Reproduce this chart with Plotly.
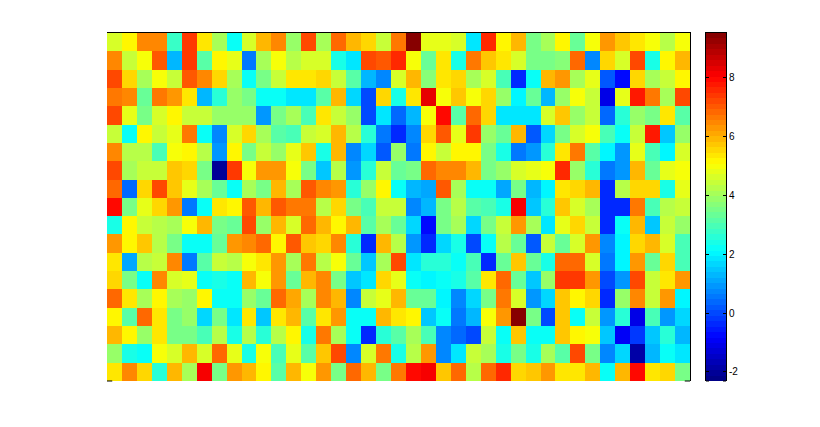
import plotly.graph_objects as go

row_00 = [4.6,5.1,6.4,6.4,2.7,7.4,5.4,4.0,2.3,4.7,6.0,6.4,3.8,7.2,4.0,6.8,5.9,5.6,4.4,6.6,9.53,4.8,4.9,4.6,1.8,7.5,5.1,5.85,3.6,4.0,5.1,3.3,5.0,6.2,5.8,5.3,5.0,4.2,5.0]
row_01 = [6.4,4.4,5.0,7.0,1.3,7.4,3.1,5.1,4.8,0.5,4.0,5.0,4.2,4.6,4.6,2.4,1.85,7.3,7.0,7.6,5.0,3.3,5.3,2.4,6.6,5.8,5.3,4.6,3.6,3.5,3.7,6.8,0.7,5.6,4.6,7.2,2.4,5.1,5.85]
row_02 = [7.3,5.6,4.0,5.0,4.4,7.0,6.4,5.5,4.0,2.15,3.5,4.4,5.4,5.4,5.6,4.4,3.1,1.25,0.8,4.6,6.0,3.7,5.3,5.5,4.1,4.6,2.9,-0.4,2.3,5.95,6.2,4.0,4.8,0.1,-0.8,5.5,4.1,4.5,5.2]
row_03 = [6.6,6.4,3.3,6.6,6.2,5.3,1.3,2.6,3.8,3.6,2.15,2.3,1.8,1.8,3.1,6.0,1.7,-0.05,5.5,2.4,5.3,8.4,5.0,5.8,5.0,5.5,3.8,2.0,3.3,1.3,3.8,5.0,4.4,-1.2,4.9,7.7,6.6,4.0,7.2]
row_04 = [7.2,4.9,3.5,4.6,5.1,4.5,4.5,3.8,3.8,3.8,1.0,3.5,4.1,2.9,5.4,4.4,3.8,0.05,1.8,0.3,1.3,5.0,7.9,3.1,6.9,5.5,1.9,1.8,1.9,4.6,5.8,3.8,4.5,0.3,2.6,3.8,3.5,5.4,3.1]
row_05 = [4.4,2.3,5.1,4.4,4.8,6.6,2.15,0.8,4.6,5.5,4.0,3.1,2.9,4.4,4.6,5.95,4.2,2.6,0.6,-0.3,0.8,5.5,7.0,4.8,7.4,3.8,3.3,6.0,0.1,1.6,3.5,4.6,5.0,2.9,2.15,4.4,7.7,1.4,3.8]
row_06 = [6.4,4.2,4.2,2.9,5.0,5.1,4.2,1.0,5.1,3.5,4.4,3.8,4.9,5.8,2.4,6.0,0.8,1.6,0.1,3.8,0.6,5.1,4.4,5.1,5.1,3.5,2.4,0.5,1.0,2.6,5.4,6.6,3.1,2.0,1.0,4.8,2.9,2.0,4.6]
row_07 = [7.3,4.1,4.4,4.4,5.8,5.5,3.6,-2.0,7.4,5.0,6.2,6.2,5.0,3.6,1.5,4.2,1.0,2.6,4.5,3.3,3.6,6.8,6.4,6.4,6.0,3.6,3.8,4.6,4.8,5.0,7.5,3.8,2.6,0.5,0.9,5.85,3.3,4.8,5.0]
row_08 = [6.9,0.3,5.5,7.2,5.8,4.8,4.0,3.3,2.15,4.0,3.5,5.85,4.1,7.0,6.5,6.2,2.6,3.8,5.1,2.15,1.3,1.2,7.0,4.1,2.3,2.3,1.2,3.6,1.3,2.0,5.3,5.6,6.0,-0.3,4.2,5.6,5.6,2.4,4.9]
row_09 = [7.9,3.6,4.9,5.5,6.2,0.5,2.3,5.4,5.1,7.0,6.0,7.0,6.6,6.6,4.3,5.5,3.6,2.9,4.5,4.4,0.8,1.3,3.6,4.2,3.1,2.9,2.4,8.1,1.5,2.6,5.8,4.7,4.0,-0.4,-0.3,6.6,2.9,4.2,4.4]
row_10 = [2.4,5.1,4.4,4.2,4.1,5.0,5.85,3.5,3.3,7.2,3.8,5.85,4.6,6.8,6.0,5.1,6.0,3.1,4.0,3.3,1.7,-0.8,3.5,4.0,1.6,3.6,4.4,6.2,4.1,1.8,4.9,5.5,4.5,-0.3,2.3,6.0,1.5,4.4,3.8]
row_11 = [6.2,5.1,5.8,4.2,3.6,2.3,2.3,3.3,6.2,6.4,6.8,5.2,7.0,5.8,5.5,6.4,2.6,-0.4,6.0,4.2,1.0,-0.3,1.7,2.4,0.05,2.3,4.2,3.3,0.2,4.4,3.3,4.6,6.2,0.7,2.0,5.6,5.85,4.7,2.9]
row_12 = [5.3,1.2,4.2,4.5,6.4,0.5,3.1,4.4,4.2,5.0,5.4,6.2,4.1,6.6,4.3,5.0,3.3,1.5,4.0,7.3,1.9,2.6,2.6,2.15,2.9,-0.3,3.3,5.8,3.3,2.4,6.9,6.9,4.6,0.5,2.0,6.2,3.3,5.5,2.9]
row_13 = [5.5,3.6,2.15,6.4,4.6,4.9,2.15,2.4,2.15,6.0,5.0,6.2,3.3,5.95,6.5,3.6,1.4,1.8,5.5,4.8,2.3,2.0,2.3,2.4,3.1,5.4,6.8,3.3,1.4,3.8,7.4,7.4,6.2,0.0,0.9,7.2,4.4,5.3,6.2]
row_14 = [6.8,5.4,4.1,5.1,4.0,3.8,5.1,2.15,2.3,3.8,3.3,6.8,6.1,4.0,6.4,6.0,0.7,4.4,4.8,6.0,3.3,3.3,2.0,0.8,1.7,3.6,6.6,4.6,1.0,1.6,5.8,5.1,5.5,-0.4,3.8,6.5,4.4,6.2,2.0]
row_15 = [5.1,3.1,6.9,5.4,3.5,3.8,1.6,3.5,1.8,5.4,1.4,5.4,6.0,3.1,5.3,6.2,2.15,2.15,6.0,5.4,5.1,1.4,2.3,0.6,1.3,5.0,6.3,9.5,3.6,0.0,5.8,2.15,4.5,1.0,2.6,-1.2,2.9,0.9,1.6]
row_16 = [6.0,5.1,3.8,5.4,3.6,3.6,2.9,4.2,2.4,4.2,2.6,4.2,5.1,2.4,6.6,4.1,2.3,-0.4,2.6,3.1,4.1,2.9,0.7,0.3,0.05,4.4,2.3,5.8,2.3,2.15,5.8,5.1,5.0,1.5,-1.0,-0.2,1.4,2.6,1.3]
row_17 = [3.8,2.4,2.3,5.0,4.6,6.0,4.6,6.8,4.8,2.4,5.0,2.9,4.8,3.1,5.8,7.3,0.8,4.6,6.6,2.4,4.3,6.2,0.8,1.8,4.4,4.1,2.4,3.5,2.4,4.1,3.1,7.2,3.6,0.8,1.6,-1.8,1.3,2.3,1.8]
row_18 = [5.3,6.5,5.5,2.6,6.0,4.0,8.2,3.5,6.2,6.0,5.1,3.1,6.0,5.0,6.2,3.5,6.9,5.85,3.6,6.6,7.9,8.1,5.8,6.8,4.2,6.8,7.6,5.5,5.8,6.2,5.3,5.3,6.0,2.3,6.0,7.9,5.3,5.5,3.5]
rows = [row_00,row_01,row_02,row_03,row_04,row_05,row_06,row_07,row_08,row_09,
        row_10,row_11,row_12,row_13,row_14,row_15,row_16,row_17,row_18]

Z_MIN, Z_MAX = -2.31, 9.53
cbar_ticks = [-2, 0, 2, 4, 6, 8]
cbar_labels = ["-2", "0", "2", "4", "6", "8"]

# MATLAB-style 64-level jet colormap
def jet(t):
    def ch(c):
        return max(0.0, min(1.0, 1.5 - abs(4 * t - c)))
    return f"rgb({round(255*ch(3))},{round(255*ch(2))},{round(255*ch(1))})"

N = 64
scale = []
for i in range(N):
    col = jet((i + 0.5) / N)
    scale += [[i / N, col], [(i + 1) / N, col]]

# the colour key: one cell per colormap level, placed on its own value axis
level_step = (Z_MAX - Z_MIN) / N
levels = [Z_MIN + (i + 0.5) * level_step for i in range(N)]

# the page body keeps its 8px margin, so the figure area starts at (8, 8)
OFF = 8
W, H = 820 - 2 * OFF, 427 - 2 * OFF
L, R, T, B = 107 - OFF, 690 - OFF, 33 - OFF, 381 - OFF
CL, CR = 706 - OFF, 726 - OFF

fig = go.Figure()
fig.add_trace(go.Heatmap(z=rows, zmin=Z_MIN, zmax=Z_MAX, colorscale=scale, showscale=False,
                         hoverinfo="z", xaxis="x", yaxis="y"))
fig.add_trace(go.Heatmap(z=[[v] for v in levels], y=levels, x=[0], zmin=Z_MIN, zmax=Z_MAX, colorscale=scale,
                         showscale=False, hoverinfo="y", xaxis="x2", yaxis="y2"))

stub = dict(color="black", width=1)
fig.update_layout(
    width=W, height=H, paper_bgcolor="white", plot_bgcolor="white",
    margin=dict(l=0, r=0, t=0, b=0, autoexpand=False), showlegend=False,
    xaxis=dict(domain=[L / W, R / W], range=[-0.5, 38.5], side="top", showline=True, linecolor="black",
               linewidth=1, showgrid=False, zeroline=False, showticklabels=False, ticks=""),
    yaxis=dict(domain=[1 - B / H, 1 - T / H], range=[18.5, -0.5], side="right", showline=True, linecolor="black",
               linewidth=1, showgrid=False, zeroline=False, showticklabels=False, ticks=""),
    xaxis2=dict(domain=[CL / W, CR / W], range=[-0.5, 0.5], anchor="y2", side="top", showline=True, linecolor="black",
                linewidth=1, showgrid=False, zeroline=False, showticklabels=False, ticks=""),
    yaxis2=dict(domain=[1 - B / H, 1 - T / H], range=[Z_MIN, Z_MAX], anchor="x2", side="right", showline=True,
                mirror="ticks", linecolor="black", linewidth=1, showgrid=False, zeroline=False,
                tickmode="array", tickvals=cbar_ticks, ticktext=cbar_labels, ticks="inside", ticklen=3,
                tickcolor="black", tickwidth=1,
                tickfont=dict(family="Liberation Sans", size=10, color="black")),
    shapes=[
        dict(type="line", xref="x domain", yref="y domain", x0=0, x1=0.009, y0=0, y1=0, line=stub),
        dict(type="line", xref="x domain", yref="y domain", x0=0.991, x1=1, y0=0, y1=0, line=stub),
        dict(type="line", xref="x2 domain", yref="y2 domain", x0=0, x1=0.15, y0=0, y1=0, line=stub),
        dict(type="line", xref="x2 domain", yref="y2 domain", x0=0.85, x1=1, y0=0, y1=0, line=stub),
    ],
)
fig.write_html("out.html")
